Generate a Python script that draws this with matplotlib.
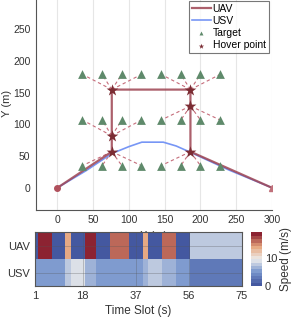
import numpy as np
import matplotlib.pyplot as plt
from matplotlib.colors import LinearSegmentedColormap

# targets (3 rows x 8)
target_x = [35, 62.5, 90, 117.5, 145, 172.5, 200, 227.5]
target_y = [35, 107, 179]

# hover points
hover_x = [76, 76, 76, 186, 186, 186]
hover_y = [57, 82, 155, 155, 129, 57]

# UAV path
uav_x = [0, 76, 76, 76, 186, 186, 186, 300]
uav_y = [0, 57, 82, 155, 155, 129, 57, 0]

# USV path
usv_x = [0, 40, 76, 100, 118, 148, 166, 186, 240, 300]
usv_y = [0, 27, 54, 65, 72, 72, 66, 56, 28, 0]

# speed per segment (time slots)
seg_len = [1, 5, 5, 2, 5, 4, 5, 7, 5, 2, 5, 5, 5, 19]
uav_speed = [0, 19, 0, 13.7, 0, 19, 0, 15.8, 0, 13.7, 0, 15.8, 0, 8.0]
usv_seg_len = [11, 2, 5, 4, 17, 2, 5, 5, 5, 19]
usv_speed = [4.8, 8.0, 9.3, 7, 4.8, 7, 8.2, 7, 4.8, 3]

plt.rcParams['font.family'] = ['Liberation Sans', 'DejaVu Sans']
fig = plt.figure(figsize=(2.94, 3.22), dpi=100)

ax = fig.add_axes([0.1224, 0.348, 0.8026, 0.659])
red = '#9E4452'
star_c = '#7B2C33'
tri_c = '#5F8A6B'
txt = '#333333'

# dashed links hover -> targets
links = [(2, 0, 2), (1, 0, 1), (0, 0, 0), (3, 1, 2), (4, 1, 1), (5, 1, 0)]
for h, side, row in links:
    xs = target_x[:4] if side == 0 else target_x[4:]
    for tx in xs:
        ax.plot([hover_x[h], tx], [hover_y[h], target_y[row]], '--',
                color='#C56C7A', lw=0.8, dashes=(3, 2.5), zorder=1)

ax.plot(usv_x, usv_y, color='#7796F5', lw=1.2, label='USV', zorder=2)
ax.plot(uav_x, uav_y, color=red, lw=1.6, alpha=0.85, label='UAV', zorder=3)
ax.plot([uav_x[0]], [uav_y[0]], 'o', color='#B0505C', ms=4, zorder=4)
ax.plot([uav_x[-1]], [uav_y[-1]], '^', color='#C0707A', ms=4, zorder=4)

tx, ty = np.meshgrid(target_x, target_y)
ax.scatter(tx.ravel(), ty.ravel(), marker='^', s=40, color=tri_c,
           label='Target', zorder=4, linewidths=0)
ax.scatter(hover_x, hover_y, marker='*', s=80, color=star_c,
           label='Hover point', zorder=5, linewidths=0)

ax.set_xlim(-30, 300)
ax.set_ylim(-35, 300)
ax.set_xticks([0, 50, 100, 150, 200, 250, 300])
ax.set_yticks([0, 50, 100, 150, 200, 250])
ax.grid(axis='x', color='#E6E6E6', lw=0.8)
ax.set_axisbelow(True)
for s in ['top', 'right']:
    ax.spines[s].set_visible(False)
for s in ['left', 'bottom']:
    ax.spines[s].set_color('#555555')
ax.tick_params(labelsize=7.5, colors=txt, direction='in', length=0, pad=4)
ax.set_xlabel('X (m)', fontsize=8, color=txt, labelpad=4)
ax.set_ylabel('Y (m)', fontsize=8, color=txt)
ax.yaxis.set_label_coords(-0.1, 0.5)

handles, labels = ax.get_legend_handles_labels()
order = [labels.index(l) for l in ['UAV', 'USV', 'Target', 'Hover point']]
leg = ax.legend([handles[i] for i in order], [labels[i] for i in order],
                loc='upper right', fontsize=7.5, frameon=True, fancybox=False,
                handlelength=1.8, handletextpad=0.2, borderpad=0.3,
                labelspacing=0.2, markerscale=0.45, borderaxespad=0.3)
leg.get_frame().set_edgecolor('#555555')
leg.get_frame().set_linewidth(0.8)

# heatmap
anchors = [(0.0, (68/255, 88/255, 160/255)),
           (0.25, (120/255, 150/255, 205/255)),
           (0.5, (236/255, 236/255, 236/255)),
           (0.75, (230/255, 165/255, 125/255)),
           (1.0, (140/255, 35/255, 50/255))]
cmap = LinearSegmentedColormap.from_list('spd', anchors, N=16)

uav_row = np.repeat(uav_speed, seg_len)
usv_row = np.repeat(usv_speed, usv_seg_len)
data = np.vstack([uav_row, usv_row])

hx = fig.add_axes([0.119, 0.112, 0.704, 0.166])
im = hx.imshow(data, aspect='auto', cmap=cmap, vmin=0, vmax=19,
               extent=[1, 75, 1.5, -0.5], interpolation='nearest')
hx.set_ylim(1.5, -0.5)
hx.set_yticks([0, 1])
hx.set_yticklabels(['UAV', 'USV'])
hx.set_xticks([1, 18, 37, 56, 75])
hx.grid(True, color='#555555', lw=0.6, alpha=0.35)
for s in hx.spines.values():
    s.set_color('#555555')
hx.tick_params(labelsize=8, colors=txt, length=0)
hx.set_xlabel('Time Slot (s)', fontsize=8.5, color=txt, labelpad=3)

cx = fig.add_axes([0.853, 0.112, 0.038, 0.166])
cb = fig.colorbar(im, cax=cx, ticks=[0, 10])
cb.outline.set_visible(False)
cb.ax.tick_params(labelsize=8, colors=txt, length=0, pad=2)
cb.set_label('Speed (m/s)', fontsize=8.5, color=txt, labelpad=2)

fig.savefig('out.png', dpi=100)
